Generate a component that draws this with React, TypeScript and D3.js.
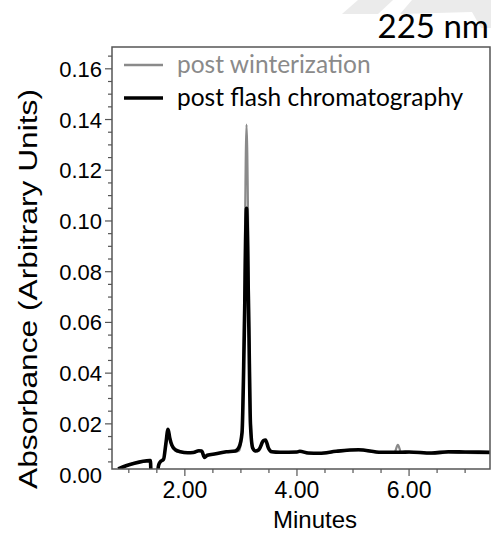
import React from 'react'
import * as d3 from 'd3'

// retention time (min)
const times = [
  0.81, 0.95, 1.1, 1.37, 1.385, 1.4, 1.5, 1.53, 1.56, 1.62, 1.66, 1.7, 1.73, 1.77, 1.83, 1.92, 2.05,
  2.15, 2.25, 2.3, 2.35, 2.4, 2.55, 2.74, 2.9, 2.97, 3.02, 3.06, 3.1, 3.14, 3.17, 3.21, 3.26, 3.32,
  3.4, 3.44, 3.49, 3.55, 3.7, 4.0, 4.05, 4.2, 4.4, 4.7, 5.1, 5.5, 5.74, 5.8, 5.86, 6.0, 6.4, 6.7,
  7.0, 7.44,
]
// post flash chromatography
const flashValues = [
  0.0022, 0.0035, 0.0045, 0.0055, 0.0055, -0.001, -0.001, 0.0035, 0.005, 0.006, 0.012, 0.0179,
  0.0145, 0.0115, 0.0098, 0.009, 0.0086, 0.0087, 0.0094, 0.0093, 0.0068, 0.0076, 0.0082, 0.009,
  0.0093, 0.011, 0.0165, 0.055, 0.105, 0.06, 0.02, 0.0105, 0.0093, 0.0098, 0.0133, 0.0136, 0.0105,
  0.009, 0.0088, 0.0089, 0.0092, 0.0085, 0.0084, 0.0092, 0.0098, 0.0088, 0.0088, 0.0088, 0.0088,
  0.0089, 0.0085, 0.009, 0.0089, 0.0088,
]
// post winterization
const winterValues = [
  0.0022, 0.0035, 0.0045, 0.0055, 0.0055, -0.001, -0.001, 0.0035, 0.005, 0.006, 0.012, 0.0175,
  0.0142, 0.0113, 0.0096, 0.0089, 0.0085, 0.0086, 0.0093, 0.0092, 0.0067, 0.0075, 0.0081, 0.0089,
  0.009, 0.0095, 0.017, 0.07, 0.138, 0.078, 0.025, 0.011, 0.0092, 0.0097, 0.0131, 0.0134, 0.0103,
  0.0089, 0.0087, 0.0088, 0.0091, 0.0084, 0.0083, 0.009, 0.0096, 0.0086, 0.0088, 0.0117, 0.0088,
  0.0087, 0.0083, 0.0086, 0.0085, 0.0084,
]
const xTickLabels = [2, 4, 6]
const yTickLabels = [0, 0.02, 0.04, 0.06, 0.08, 0.1, 0.12, 0.14, 0.16]
const legendItems = [
  { label: 'post winterization', color: '#8a8a8a' },
  { label: 'post flash chromatography', color: '#000' },
]

const App = () => {
  const width = 491
  const height = 533
  const left = 112
  const right = 490
  const top = 47
  const bottom = 469

  const x = d3.scaleLinear().domain([0.7, 7.444]).range([left, right])
  const y = d3.scaleLinear().domain([0.0022, 0.1686]).range([bottom, top])

  const line = (vals: number[]) =>
    d3
      .line<number>()
      .x((d, i) => x(times[i]))
      .y((d) => y(d))
      .curve(d3.curveMonotoneX)(vals) as string

  const xMinor = d3.range(1, 7.01, 0.5)
  const yMinor = d3.range(0.005, 0.166, 0.005)
  const axisColor = '#555'

  return (
    <svg
      width={width}
      height={height}
      style={{ position: 'absolute', left: 0, top: 0, background: '#fff' }}
    >
      {/* faint watermark in the corner */}
      <g fill="#ebebeb">
        <polygon points="342,14 358,0 393,0 378,14" />
        <polygon points="400,14 412,0 491,0 491,28 481,28 472,12" />
      </g>

      <text
        x={489}
        y={38}
        textAnchor="end"
        fontFamily="Lato, 'Noto Sans', sans-serif"
        fontSize={33}
        fill="#000"
      >
        225 nm
      </text>

      <defs>
        <clipPath id="plot">
          <rect x={left} y={top} width={right - left} height={bottom - top} />
        </clipPath>
      </defs>

      <g clipPath="url(#plot)">
        <path d={line(winterValues)} fill="none" stroke="#8a8a8a" strokeWidth={2.2} />
        <path
          d={line(flashValues)}
          fill="none"
          stroke="#000"
          strokeWidth={3.6}
          strokeLinejoin="round"
        />
      </g>

      <rect
        x={left}
        y={top}
        width={right - left}
        height={bottom - top}
        fill="none"
        stroke={axisColor}
        strokeWidth={1.5}
      />

      {/* y ticks */}
      {yMinor.map((v) => {
        const major = Math.abs(v / 0.02 - Math.round(v / 0.02)) < 1e-6
        return (
          <line
            key={'ym' + v}
            x1={left}
            x2={left - (major ? 7 : 4)}
            y1={y(v)}
            y2={y(v)}
            stroke={axisColor}
            strokeWidth={1.2}
          />
        )
      })}
      {yTickLabels.map((v) => (
        <text
          key={'yl' + v}
          x={left - 10}
          y={y(v) + 8}
          textAnchor="end"
          fontFamily="'Liberation Sans', Arial, sans-serif"
          fontSize={22}
          fill="#000"
        >
          {v.toFixed(2)}
        </text>
      ))}

      {/* x ticks */}
      {xMinor.map((t) => {
        const major = xTickLabels.includes(t)
        return (
          <line
            key={'xm' + t}
            x1={x(t)}
            x2={x(t)}
            y1={bottom}
            y2={bottom + (major ? 7 : 4)}
            stroke={axisColor}
            strokeWidth={1.2}
          />
        )
      })}
      {xTickLabels.map((t) => (
        <text
          key={'xl' + t}
          x={x(t)}
          y={498}
          textAnchor="middle"
          fontFamily="'Liberation Sans', Arial, sans-serif"
          fontSize={23}
          fill="#000"
        >
          {t.toFixed(2)}
        </text>
      ))}

      <text
        x={315}
        y={528}
        textAnchor="middle"
        fontFamily="'Liberation Sans', Arial, sans-serif"
        fontSize={24}
        fill="#000"
      >
        Minutes
      </text>
      <text
        transform="translate(37, 289) rotate(-90)"
        textAnchor="middle"
        fontFamily="'Liberation Sans', Arial, sans-serif"
        fontSize={26}
        textLength={400}
        lengthAdjust="spacingAndGlyphs"
        fill="#000"
      >
        Absorbance (Arbitrary Units)
      </text>

      {/* legend */}
      {legendItems.map((d, i) => (
        <g key={d.label} transform={`translate(0, ${65 + i * 33})`}>
          <line x1={124} x2={163} y1={0} y2={0} stroke={d.color} strokeWidth={i === 0 ? 2.5 : 3.5} />
          <text
            x={177}
            y={8}
            fontFamily="Lato, 'Noto Sans', sans-serif"
            fontSize={24.5}
            fill={d.color}
          >
            {d.label}
          </text>
        </g>
      ))}
    </svg>
  )
}

export default App
